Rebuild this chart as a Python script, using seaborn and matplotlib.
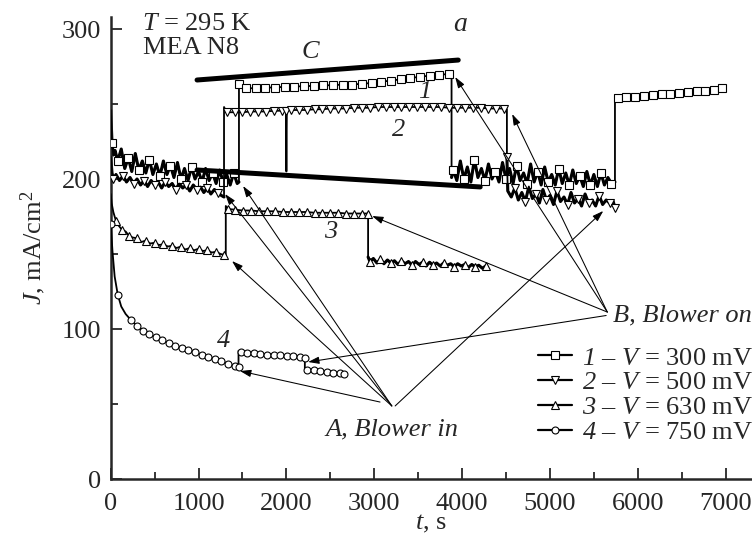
import matplotlib
matplotlib.use("Agg")
import matplotlib.pyplot as plt
from matplotlib.lines import Line2D
import seaborn as sns

# ---------------- data ----------------
# Curve 1: V = 300 mV (squares)
c1a_t = [0, 15, 30, 50, 80, 120, 160, 200, 240, 280,
         320, 360, 400, 440, 480, 520, 560, 600, 640, 680,
         720, 760, 800, 840, 880, 920, 960, 1000, 1040, 1080,
         1120, 1160, 1200, 1240, 1280, 1320, 1360, 1400, 1440, 1460]
c1a_j = [246, 224, 216, 219, 212, 220, 207, 214, 205, 217,
         206, 212, 204, 213, 203, 210, 202, 212, 203, 209,
         201, 211, 200, 207, 199, 208, 200, 205, 198, 207,
         199, 204, 197, 206, 198, 203, 196, 204, 197, 198]
c1b_t = [1460, 1540, 1650, 1760, 1870, 1980, 2090, 2200, 2310, 2420,
         2530, 2640, 2750, 2860, 2970, 3080, 3190, 3300, 3410, 3520,
         3630, 3740, 3850, 3880]
c1b_j = [263.5, 260.5, 260.5, 261, 261, 261.5, 261.5, 262, 262, 262.5,
         262.5, 263, 263, 263.5, 264, 265, 265.5, 266.5, 267.5, 268,
         269, 269.5, 270, 270]
c1c_t = [3880, 3900, 3940, 3980, 4020, 4060, 4100, 4140, 4180, 4220,
         4260, 4300, 4340, 4380, 4420, 4460, 4500, 4540, 4580, 4620,
         4660, 4700, 4740, 4780, 4820, 4860, 4900, 4940, 4980, 5020,
         5060, 5100, 5140, 5180, 5220, 5260, 5300, 5340, 5380, 5420,
         5460, 5500, 5540, 5580, 5620, 5660, 5700, 5740]
c1c_j = [201, 206, 199, 212, 200, 208, 198, 213, 201, 207,
         199, 210, 200, 205, 198, 211, 200, 207, 197, 209,
         199, 204, 197, 210, 198, 205, 196, 208, 198, 203,
         196, 207, 197, 204, 196, 206, 197, 202, 195, 205,
         196, 203, 195, 204, 196, 201, 197, 198]
c1d_t = [5740, 5780, 5870, 5970, 6070, 6170, 6270, 6370, 6470, 6570,
         6670, 6770, 6870, 6960]
c1d_j = [256, 254, 254.5, 255, 255.5, 256, 256.5, 257, 257.5, 258,
         258.5, 259, 259.5, 260.5]

# Curve 2: V = 500 mV (down triangles)
c2a_t = [0, 15, 30, 60, 100, 140, 180, 220, 260, 300,
         340, 380, 420, 460, 500, 540, 580, 620, 660, 700,
         740, 780, 820, 860, 900, 940, 980, 1020, 1060, 1100,
         1140, 1180, 1220, 1260, 1290]
c2a_j = [215, 204, 200, 203, 199, 202, 198, 201, 197, 200,
         196, 199, 195, 199, 196, 198, 194, 198, 195, 197,
         193, 197, 194, 196, 192, 196, 193, 195, 191, 194,
         190, 193, 191, 189, 188]
c2b_t = [1290, 1320, 1410, 1500, 1590, 1680, 1770, 1860, 1950, 1995]
c2b_j = [248, 244.5, 244.5, 244.5, 245, 245, 245, 245.5, 245.5, 245.5]
c2s_t = [1995, 2000, 2005]
c2s_j = [245.5, 205, 245.5]
c2c_t = [2005, 2050, 2140, 2230, 2320, 2410, 2500, 2590, 2680, 2770,
         2860, 2950, 3040, 3130, 3220, 3310, 3400, 3490, 3580, 3670,
         3760, 3850, 3940, 4030, 4120, 4210, 4300, 4390, 4480, 4510]
c2c_j = [245.5, 246, 246, 246, 246.5, 246.5, 247, 247, 247, 247.5,
         247.5, 247.5, 248, 248, 248, 248, 248, 248, 248, 248,
         248, 247.5, 247.5, 247.5, 247.5, 247.5, 247, 247, 247, 246.5]
c2d_t = [4510, 4520, 4560, 4600, 4640, 4680, 4720, 4760, 4800, 4840,
         4880, 4920, 4960, 5000, 5040, 5080, 5120, 5160, 5200, 5240,
         5280, 5320, 5360, 5400, 5440, 5480, 5520, 5560, 5600, 5640,
         5680, 5720, 5740]
c2d_j = [215, 192, 188, 194, 186, 191, 185, 195, 187, 190,
         184, 193, 186, 189, 183, 192, 185, 188, 183, 191,
         184, 187, 182, 190, 184, 186, 182, 189, 183, 186,
         184, 185, 181]

# Curve 3: V = 630 mV (up triangles)
c3a_t = [0, 10, 30, 60, 90, 130, 170, 210, 250, 300,
         350, 400, 450, 500, 550, 600, 650, 700, 750, 800,
         850, 900, 950, 1000, 1050, 1100, 1150, 1200, 1250, 1290,
         1310]
c3a_j = [190, 184, 178, 172, 169, 166, 165, 162, 161, 160.5,
         158, 159, 157, 157.5, 156, 156.5, 155, 155.5, 154, 155,
         153, 154, 152.5, 153.5, 152, 152.5, 151, 151.5, 150, 149.5,
         149]
c3b_t = [1310, 1340, 1420, 1510, 1600, 1690, 1780, 1870, 1960, 2050,
         2140, 2230, 2320, 2410, 2500, 2590, 2680, 2770, 2860, 2930]
c3b_j = [182, 180, 179.5, 179, 179, 178.5, 178.5, 178.5, 178, 178,
         178, 178, 177.5, 177.5, 177.5, 177.5, 177, 177, 177, 177]
c3c_t = [2930, 2950, 2990, 3030, 3070, 3110, 3150, 3190, 3230, 3270,
         3310, 3350, 3390, 3430, 3470, 3510, 3550, 3590, 3630, 3670,
         3710, 3750, 3790, 3830, 3870, 3910, 3950, 3990, 4030, 4070,
         4110, 4150, 4190, 4230, 4270, 4290]
c3c_j = [148, 145, 147, 144, 146.5, 143.5, 146, 144, 145.5, 143,
         145.5, 143.5, 145, 142.5, 145, 143, 144.5, 142, 144.5, 142.5,
         144, 142, 144, 142.5, 143.5, 141.5, 143.5, 142, 143, 141,
         143, 141.5, 142.5, 140.5, 142, 141]

# Curve 4: V = 750 mV (circles)
c4a_t = [0, 20, 45, 80, 120, 170, 230, 300, 370, 440,
         510, 585, 660, 735, 810, 885, 960, 1035, 1110, 1185,
         1260, 1335, 1410, 1455]
c4a_j = [170, 152, 135, 123, 115, 110, 106, 102, 99, 96.5,
         94.5, 92.5, 90.5, 89, 87.5, 86, 84.5, 83, 81.5, 80,
         78.5, 77, 75.5, 74.5]
c4b_t = [1455, 1480, 1555, 1630, 1705, 1780, 1855, 1930, 2005, 2080, 2155, 2210]
c4b_j = [85.5, 84.5, 84, 84, 83.5, 83, 83, 82.5, 82, 82, 81.5, 81]
c4c_t = [2210, 2240, 2310, 2385, 2460, 2535, 2610, 2650]
c4c_j = [73.5, 73, 72.5, 72, 71.5, 71, 70.5, 70]

# Straight guide lines "C"
cup_t, cup_j = [983, 3956], [266, 279.3]
clo_t, clo_j = [983, 4206], [206, 194.7]

legend_labels = [r"$\mathcal{1}$ – $\mathit{V}$ = 300 mV",
                 r"$\mathcal{2}$ – $\mathit{V}$ = 500 mV",
                 r"$\mathcal{3}$ – $\mathit{V}$ = 630 mV",
                 r"$\mathcal{4}$ – $\mathit{V}$ = 750 mV"]

# ---------------- style ----------------
sns.set_style("ticks")
plt.rcParams["font.family"] = ["Liberation Serif", "DejaVu Serif"]
plt.rcParams["mathtext.fontset"] = "custom"
plt.rcParams["mathtext.rm"] = "Liberation Serif"
plt.rcParams["mathtext.it"] = "Liberation Serif:italic"
plt.rcParams["mathtext.cal"] = "Liberation Serif:italic"
plt.rcParams["mathtext.bf"] = "Liberation Serif:bold"

FS = 19
fig = plt.figure(figsize=(7.52, 5.34), dpi=100)
ax = fig.add_axes([110.7 / 752, 55 / 534, 1 - 110.7 / 752, (479 - 17) / 534])


def build(segments):
    t, j, idx = [], [], []
    for ts, js, mk, noisy in segments:
        start = len(t)
        t += ts
        j += js
        idx += [start + k for k in mk]
    return t, j, idx


def rng(n, start=0, step=1):
    return list(range(start, n, step))


curves = [
    ("s", 5.2, [(c1a_t, c1a_j, rng(len(c1a_t), 1, 3), True),
                (c1b_t, c1b_j, rng(len(c1b_t), 0, 1)[:-1], False),
                (c1c_t, c1c_j, rng(len(c1c_t), 1, 3), True),
                (c1d_t, c1d_j, rng(len(c1d_t), 1, 1), False)]),
    ("v", 5.6, [(c2a_t, c2a_j, rng(len(c2a_t), 2, 3), True),
                (c2b_t, c2b_j, rng(len(c2b_t), 1, 1), False),
                (c2s_t, c2s_j, [], False),
                (c2c_t, c2c_j, rng(len(c2c_t), 1, 1)[:-1], False),
                (c2d_t, c2d_j, rng(len(c2d_t), 0, 3) + [len(c2d_t) - 1], True)]),
    ("^", 5.6, [(c3a_t, c3a_j, rng(len(c3a_t), 3, 2), False),
                (c3b_t, c3b_j, rng(len(c3b_t), 1, 1), False),
                (c3c_t, c3c_j, rng(len(c3c_t), 1, 3), True)]),
    ("o", 5.0, [(c4a_t, c4a_j, [0, 3] + rng(len(c4a_t), 6, 1), False),
                (c4b_t, c4b_j, rng(len(c4b_t), 1, 1), False),
                (c4c_t, c4c_j, rng(len(c4c_t), 1, 1), False)]),
]

for mk, ms, segs in curves:
    # noisy stretches look like a heavy black band in the original
    for ts, js, _, noisy in segs:
        if noisy:
            sns.lineplot(x=ts, y=js, ax=ax, sort=False, estimator=None,
                         color="black", lw=2.2, zorder=2)
    t, j, idx = build(segs)
    sns.lineplot(x=t, y=j, ax=ax, sort=False, estimator=None, color="black",
                 lw=1.3, marker=mk, markevery=idx, ms=ms, mfc="white",
                 mec="black", mew=0.8, zorder=3)

for tt, jj in [(cup_t, cup_j), (clo_t, clo_j)]:
    sns.lineplot(x=tt, y=jj, ax=ax, sort=False, estimator=None,
                 color="black", lw=3.6, zorder=4)

# ---------------- arrows ----------------
aprops = dict(arrowstyle="-|>,head_length=0.55,head_width=0.18",
              color="black", lw=0.75, mutation_scale=12,
              shrinkA=0, shrinkB=0)
A_arrows = [((3066, 51.3), (1472, 72)),
            ((3200, 48.7), (1381, 145.3)),
            ((3200, 48.7), (1302, 190)),
            ((3200, 48.7), (1507, 195.3)),
            ((3238, 48.7), (5607, 178.7))]
B_arrows = [((5653, 111.3), (3921, 268)),
            ((5653, 111.3), (4570, 243.3)),
            ((5653, 111.3), (2976, 175.3)),
            ((5640, 109.0), (2247, 78))]
for tail, head in A_arrows + B_arrows:
    ax.annotate("", xy=head, xytext=tail, arrowprops=aprops, zorder=5)

# ---------------- texts ----------------
ax.text(356, 303, r"$T$ = 295 K", fontsize=FS, ha="left", va="center")
ax.text(369, 287, "MEA N8", fontsize=FS, ha="left", va="center")
ax.text(2270, 284.7, "C", fontsize=FS, style="italic", ha="center", va="center")
ax.text(3979, 303, "a", fontsize=FS + 1, style="italic", ha="center", va="center")
ax.text(3570, 258, "1", fontsize=FS, style="italic", ha="center", va="center")
ax.text(3275, 233, "2", fontsize=FS, style="italic", ha="center", va="center")
ax.text(2500, 165, "3", fontsize=FS, style="italic", ha="center", va="center")
ax.text(1283, 92, "4", fontsize=FS, style="italic", ha="center", va="center")
ax.text(5721, 108.7, "B, Blower on", fontsize=FS, style="italic",
        ha="left", va="center")
ax.text(3204, 33.3, "A, Blower in", fontsize=FS, style="italic",
        ha="center", va="center")

# ---------------- axes ----------------
ax.set_xlim(0, 7300)
ax.set_ylim(0, 308)
ax.set_xticks([0, 1000, 2000, 3000, 4000, 5000, 6000, 7000])
ax.set_xticks([500, 1500, 2500, 3500, 4500, 5500, 6500], minor=True)
ax.set_yticks([0, 100, 200, 300])
ax.set_yticks([50, 150, 250], minor=True)
ax.tick_params(which="both", direction="in", width=1.3, labelsize=FS,
               top=False, right=False)
ax.tick_params(axis="x", which="major", length=8, pad=10)
ax.tick_params(axis="x", which="minor", length=5)
ax.tick_params(axis="y", which="major", length=8, pad=7)
ax.tick_params(axis="y", which="minor", length=5)
for s in ["top", "right"]:
    ax.spines[s].set_visible(False)
for s in ["left", "bottom"]:
    ax.spines[s].set_linewidth(1.8)
ax.set_xlabel(r"$t$, s", fontsize=FS)
ax.xaxis.label.set_va("baseline")
ax.xaxis.set_label_coords(0.5, -(529 - 479) / 462)
ax.set_ylabel(r"$J$, mA/cm$^2$", fontsize=FS, labelpad=10)

handles = [Line2D([], [], color="black", lw=1.6, marker=m, ms=s,
                  mfc="white", mec="black", mew=0.8)
           for m, s, _ in curves]
leg = ax.legend(handles, legend_labels, loc="center left",
                bbox_to_anchor=(538 / 752, 1 - 395 / 534),
                bbox_transform=fig.transFigure, frameon=False,
                fontsize=FS, handlelength=1.3, handletextpad=0.35,
                labelspacing=0.05, borderpad=0, borderaxespad=0)

fig.savefig("out.png", dpi=100)
